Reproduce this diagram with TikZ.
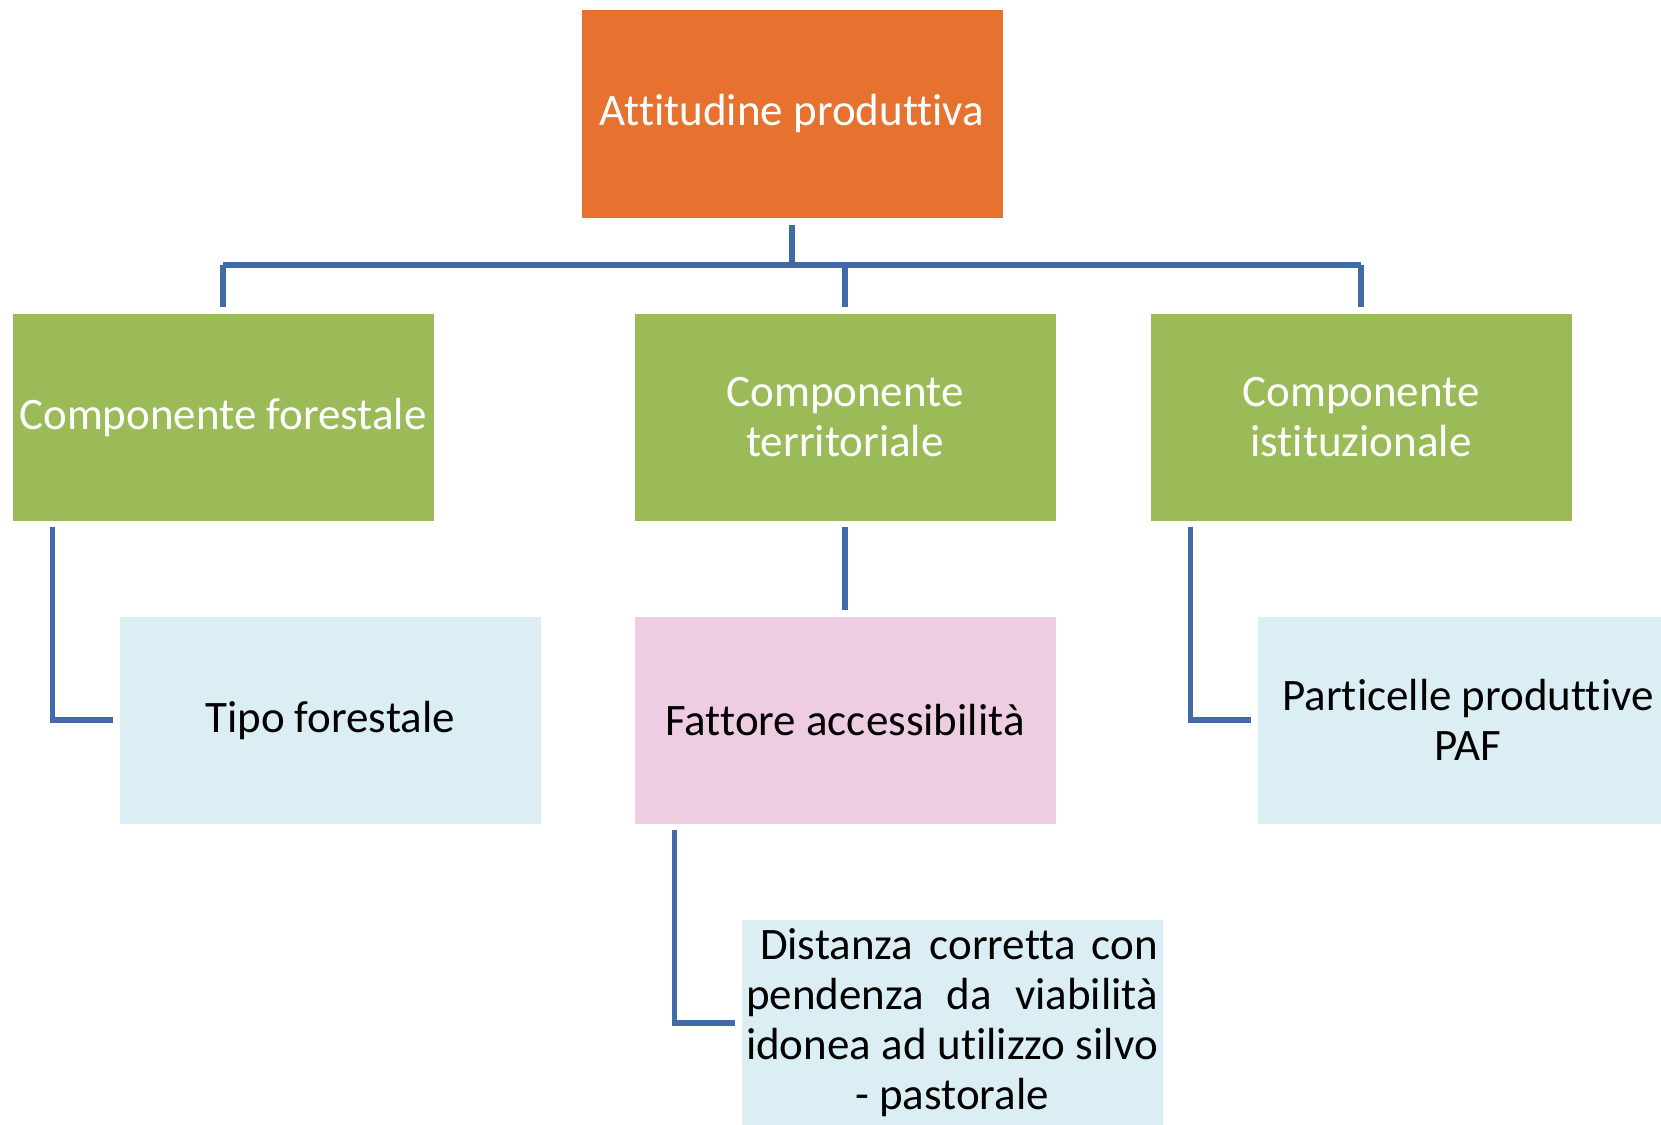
\documentclass[tikz,border=0pt]{standalone}
\usepackage{fontspec}
\setmainfont{Carlito}[Ligatures=NoCommon]
\usepackage{tikz}
\usetikzlibrary{positioning}

\definecolor{attorange}{RGB}{231,114,48}
\definecolor{compgreen}{RGB}{155,187,89}
\definecolor{factblue}{RGB}{219,238,244}
\definecolor{factpink}{RGB}{238,205,226}
\definecolor{linkblue}{RGB}{66,106,166}

\tikzset{
	box/.style={minimum width=421pt, minimum height=207pt, inner sep=0pt, align=center,
		font=\fontsize{45}{50}\selectfont},
	rootbox/.style={box, fill=attorange, text=white},
	compbox/.style={box, fill=compgreen, text=white},
	factbox/.style={box, fill=factblue, text=black},
	keybox/.style={box, fill=factpink, text=black},
	link/.style={draw=linkblue, line width=5.5pt}
}

\begin{document}
\begin{tikzpicture}[x=1pt, y=-1pt]
	\fill[white] (0,0) rectangle (1661,1124);
	\clip (0,0) rectangle (1661,1124);

	% livello 0
	\node[rootbox] (root) at (792,114) {\raisebox{-3pt}{Attitudine produttiva}};

	% livello 1
	\node[compbox] (forest) at (223,417) {Componente forestale};
	\node[compbox] (territ) at (845,417) {Componente\\territoriale};
	\node[compbox] (istit) at (1361,417) {Componente\\istituzionale};

	% livello 2
	\node[factbox] (tipo) at (330,720) {Tipo forestale};
	\node[keybox] (access) at (845,720) {Fattore accessibilità};
	\node[factbox] (partic) at (1468,720) {Particelle produttive\\PAF};

	% livello 3
	\node[factbox] (dist) at (952,1023) {%
		\makebox[412pt][r]{\makebox[398pt][s]{Distanza corretta con}}\\
		\makebox[412pt][s]{pendenza da viabilità}\\
		\makebox[412pt][s]{idonea ad utilizzo silvo}\\
		- pastorale};

	\coordinate (bus) at (792,265);

	\draw[link, shorten <=7pt] (root.south) -- (bus);
	\draw[link] (forest.north |- bus) -- (istit.north |- bus);
	\foreach \n in {forest,territ,istit}
		\draw[link, shorten >=6.5pt] (\n.north |- bus) -- (\n.north);

	\draw[link, shorten <=6pt, shorten >=6pt] ([xshift=40pt]forest.south west) |- (tipo.west);
	\draw[link, shorten <=6pt, shorten >=6pt] (territ.south) -- (access.north);
	\draw[link, shorten <=6pt, shorten >=6pt] ([xshift=40pt]istit.south west) |- (partic.west);
	\draw[link, shorten <=6pt, shorten >=6pt] ([xshift=40pt]access.south west) |- (dist.west);
\end{tikzpicture}
\end{document}
